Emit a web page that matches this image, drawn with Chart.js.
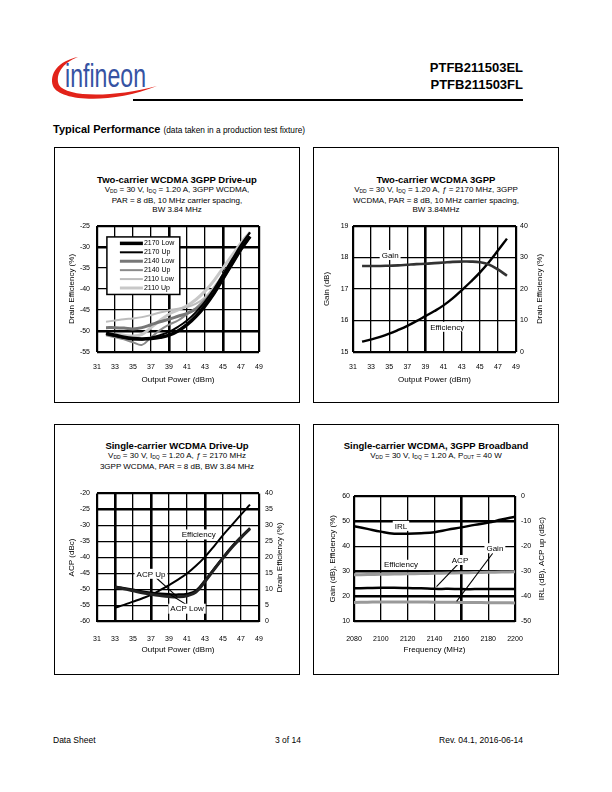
<!DOCTYPE html>
<html>
<head>
<meta charset="utf-8">
<script src="https://cdn.jsdelivr.net/npm/chart.js@4.4.0/dist/chart.umd.min.js"></script>
<style>
  body { margin: 0; width: 612px; height: 792px; position: relative; background: #fff; color: #000;
         font-family: "Liberation Sans", Arial, sans-serif; overflow: hidden; }
  .abs { position: absolute; white-space: nowrap; }
  .box { position: absolute; border: 1.5px solid #000; box-sizing: border-box; }
  .ttl { position: absolute; text-align: center; line-height: 9px; }
  .ttl b { font-size: 9.5px; display: block; margin-bottom: 1px; }
  .ttl div { font-size: 8px; }
  .s { font-size: 5px; vertical-align: -1px; }
  canvas { position: absolute; }
</style>
</head>
<body>

<svg class="abs" style="left:0;top:0" width="200" height="110">
  <path d="M 78 57 C 58 61, 49 74, 53 86 C 59 101, 110 105, 157 86 C 112 98, 66 97, 59 85 C 55 75, 62 63, 78 57 Z" fill="#e2231a"/>
  <text x="65" y="87" font-family="Liberation Sans Narrow, Liberation Sans" font-size="33" fill="#3653a3" textLength="81" lengthAdjust="spacingAndGlyphs">infineon</text>
</svg>
<div class="abs" style="right:89px;top:59px;font-size:13px;font-weight:bold;text-align:right;line-height:17px">PTFB211503EL<br>PTFB211503FL</div>
<div class="abs" style="left:133px;top:99px;width:390px;height:1.5px;background:#000"></div>
<div class="abs" style="left:53px;top:123px;font-size:11px;font-weight:bold">Typical Performance <span style="font-size:8.3px;font-weight:normal">(data taken in a production test fixture)</span></div>

<div class="box" style="left:54px;top:147px;width:246px;height:256px"></div>
<div class="box" style="left:313px;top:147px;width:246px;height:256px"></div>
<div class="box" style="left:54px;top:424px;width:246px;height:251px"></div>
<div class="box" style="left:313px;top:424px;width:246px;height:251px"></div>

<div class="ttl" style="left:54px;width:246px;top:175px">
  <b>Two-carrier WCDMA 3GPP Drive-up</b>
  <div>V<span class="s">DD</span> = 30 V, I<span class="s">DQ</span> = 1.20 A, 3GPP WCDMA,</div>
  <div>PAR = 8 dB, 10 MHz carrier spacing,</div>
  <div>BW 3.84 MHz</div>
</div>
<div class="ttl" style="left:313px;width:246px;top:175px">
  <b>Two-carrier WCDMA 3GPP</b>
  <div>V<span class="s">DD</span> = 30 V, I<span class="s">DQ</span> = 1.20 A, <i>ƒ</i> = 2170 MHz, 3GPP</div>
  <div>WCDMA, PAR = 8 dB, 10 MHz carrier spacing,</div>
  <div>BW 3.84MHz</div>
</div>
<div class="ttl" style="left:54px;width:246px;top:441px">
  <b>Single-carrier WCDMA Drive-Up</b>
  <div>V<span class="s">DD</span> = 30 V, I<span class="s">DQ</span> = 1.20 A, <i>ƒ</i> = 2170 MHz</div>
  <div>3GPP WCDMA, PAR = 8 dB, BW 3.84 MHz</div>
</div>
<div class="ttl" style="left:313px;width:246px;top:441px">
  <b>Single-carrier WCDMA, 3GPP Broadband</b>
  <div>V<span class="s">DD</span> = 30 V, I<span class="s">DQ</span> = 1.20 A, P<span class="s">OUT</span> = 40 W</div>
</div>

<canvas id="c1" width="238" height="176" style="left:56px;top:214px"></canvas>
<canvas id="c2" width="238" height="176" style="left:316px;top:214px"></canvas>
<canvas id="c3" width="238" height="180" style="left:56px;top:482px"></canvas>
<canvas id="c4" width="238" height="178" style="left:316px;top:484px"></canvas>

<div class="abs" style="left:53px;top:735px;font-size:8.5px">Data Sheet</div>
<div class="abs" style="left:238px;width:100px;text-align:center;top:735px;font-size:8.5px">3 of 14</div>
<div class="abs" style="right:89px;top:735px;font-size:8.5px">Rev. 04.1, 2016-06-14</div>

<script>
const FONT = '"Liberation Sans", Arial, sans-serif';

// chart 1: two-carrier drive-up, ACP per frequency
const pout1 = [32, 33, 34, 35, 36, 37, 38, 39, 40, 41, 42, 43, 44, 45, 46, 47, 48];
const acp2170Low = [-50.5, -51, -51.5, -51.8, -51.9, -51.8, -51.5, -51, -50, -48.5, -46.5, -44, -41, -37.5, -34, -30.5, -27.5];
const acp2170Up  = [-50.8, -51.2, -51.6, -52, -52, -51.6, -51, -50.2, -49, -47.5, -45.5, -43, -40, -36.5, -33, -29.5, -26.5];
const acp2140Low = [-49.2, -49.2, -49.3, -49.5, -49.2, -48.5, -47.8, -47.2, -46.5, -45.8, -44.8, -43.5, -41, -37.5, -34, -30.5, -27.5];
const acp2140Up  = [-51, -51.5, -52, -52.7, -53.3, -51.5, -49.8, -48.5, -47.5, -46, -44.5, -42.5, -40, -36.5, -33, -29.5, -26.5];
const acp2110Low = [-47.8, -47.5, -47.2, -47, -46.7, -46.2, -45.6, -45.1, -44.7, -44.3, -43.5, -42, -39.5, -36.5, -33, -30, -27.8];
const acp2110Up  = [-50.8, -50.8, -51, -51.2, -50.8, -49.2, -47.5, -46, -45, -44, -42.5, -40.5, -38, -35, -32, -29, -26.5];

// chart 2: two-carrier gain / efficiency
const pout2 = [32, 33, 34, 35, 36, 37, 38, 39, 40, 41, 42, 43, 44, 45, 46, 47, 48];
const gain2 = [17.73, 17.73, 17.73, 17.74, 17.75, 17.77, 17.79, 17.8, 17.82, 17.84, 17.86, 17.87, 17.87, 17.85, 17.78, 17.62, 17.42];
const eff2  = [3.3, 4, 4.8, 5.8, 7, 8.3, 9.8, 11.4, 13, 14.8, 17, 19.6, 22.3, 25.2, 28.5, 32.2, 36];

// chart 3: single-carrier drive-up
const pout3 = [33, 34, 35, 36, 37, 38, 39, 40, 41, 42, 43, 44, 45, 46, 47, 48];
const acpUp3  = [-49.3, -49.8, -50.4, -51, -51.5, -51.9, -52.2, -52.3, -52, -50.8, -47.5, -43.8, -40.2, -36.8, -33.8, -31];
const acpLow3 = [-49.1, -49.6, -50.1, -50.6, -51, -51.3, -51.5, -51.6, -51.4, -50.4, -47.2, -43.6, -40, -36.6, -33.6, -30.8];
const eff3    = [4.3, 5.2, 6.2, 7.2, 8.3, 9.8, 11.4, 13.1, 15, 17.4, 20.2, 23.5, 27, 30.2, 33.4, 36.5];

// chart 4: broadband at 40 W
const freq4 = [2080, 2090, 2100, 2110, 2120, 2130, 2140, 2150, 2160, 2170, 2180, 2190, 2200];
const irl4  = [-12, -13.1, -14.2, -15, -15, -14.8, -14.4, -13.4, -12.5, -11.5, -10.6, -9.4, -8.3];
const eff4  = [28.6, 28.7, 28.8, 28.9, 29, 29.1, 29.2, 29.3, 29.4, 29.5, 29.6, 29.7, 29.8];
const acp4  = [-36.8, -36.7, -36.6, -36.6, -36.7, -36.8, -37, -37, -37.1, -37.1, -37.1, -37.1, -37.1];
const gain4 = [17.6, 17.7, 17.8, 17.8, 17.8, 17.8, 17.7, 17.7, 17.6, 17.6, 17.5, 17.5, 17.4];

Chart.defaults.font.family = FONT;
Chart.defaults.color = '#000';
Chart.defaults.animation = false;
Chart.defaults.responsive = false;
Chart.defaults.plugins.legend.display = false;
Chart.defaults.plugins.tooltip.enabled = false;

const pts = (xs, ys) => xs.map((x, i) => ({ x: x, y: ys[i] }));

function line(label, xs, ys, color, width, axis) {
  return { label: label, data: pts(xs, ys), borderColor: color, borderWidth: width, pointRadius: 0,
           tension: 0.4, fill: false, yAxisID: axis || 'y' };
}

function gridWidth(thick) {
  return ctx => {
    const s = ctx.scale;
    if (ctx.tick.value === s.min || ctx.tick.value === s.max) return 2.2;
    return thick.includes(ctx.tick.value) ? 2.6 : 1.3;
  };
}

function xAxis(min, max, step, title, h, tickPad, titlePad, thick) {
  return {
    type: 'linear', position: 'bottom', min: min, max: max,
    ticks: { stepSize: step, font: { size: 7 }, padding: tickPad, maxRotation: 0, autoSkip: false, callback: v => v },
    grid: { drawTicks: false, color: '#000', lineWidth: gridWidth(thick) },
    border: { display: false },
    title: { display: true, text: title, font: { size: 8 }, padding: { top: 0, bottom: titlePad } },
    afterFit: s => { s.height = h; }
  };
}

function yAxis(pos, min, max, step, title, w, tickPad, titlePad, thick) {
  return {
    type: 'linear', position: pos, min: min, max: max,
    ticks: { stepSize: step, font: { size: 7 }, padding: tickPad, callback: v => v },
    grid: thick ? { drawTicks: false, color: '#000', lineWidth: gridWidth(thick) } : { display: false, drawTicks: false },
    border: { display: false },
    title: { display: pos === 'left', text: title, font: { size: 8 }, padding: { top: titlePad, bottom: 0 } },
    afterFit: s => { s.width = w; }
  };
}

// right-hand axis title, read bottom to top like the left one
const rightTitle = {
  id: 'rightTitle',
  afterDraw(chart, args, opts) {
    const s = chart.scales.y2;
    if (!s) return;
    const ctx = chart.ctx;
    ctx.save();
    ctx.translate(s.right - opts.offset, (s.top + s.bottom) / 2);
    ctx.rotate(-Math.PI / 2);
    ctx.font = '8px ' + FONT;
    ctx.fillStyle = '#000';
    ctx.textAlign = 'center';
    ctx.textBaseline = 'middle';
    ctx.fillText(s.options.title.text, 0, 0);
    ctx.restore();
  }
};

// text labels with white background and leader lines, given in data units
const notesPlugin = {
  id: 'notes',
  afterDatasetsDraw(chart, args, opts) {
    const ctx = chart.ctx;
    const xs = chart.scales.x;
    ctx.save();
    ctx.strokeStyle = '#000';
    ctx.lineWidth = 1.1;
    (opts.leaders || []).forEach(([x1, y1, x2, y2, ax]) => {
      const ys = chart.scales[ax || 'y'];
      ctx.beginPath();
      ctx.moveTo(xs.getPixelForValue(x1), ys.getPixelForValue(y1));
      ctx.lineTo(xs.getPixelForValue(x2), ys.getPixelForValue(y2));
      ctx.stroke();
    });
    ctx.font = '8px ' + FONT;
    ctx.textAlign = 'center';
    ctx.textBaseline = 'middle';
    (opts.labels || []).forEach(([text, xv, yv, ax]) => {
      const ys = chart.scales[ax || 'y'];
      const px = xs.getPixelForValue(xv), py = ys.getPixelForValue(yv);
      const w = ctx.measureText(text).width;
      ctx.fillStyle = '#fff';
      ctx.fillRect(px - w / 2 - 2, py - 5, w + 4, 10);
      ctx.fillStyle = '#000';
      ctx.fillText(text, px, py + 0.5);
    });
    ctx.restore();
  }
};

// boxed legend inside the plot of chart 1
const boxLegend = {
  id: 'boxLegend',
  afterDatasetsDraw(chart, args, opts) {
    if (!opts.box) return;
    const { ctx, scales: { x, y } } = chart;
    const [x0, y0, x1, y1] = opts.box;
    const l = x.getPixelForValue(x0), r = x.getPixelForValue(x1);
    const t = y.getPixelForValue(y0), b = y.getPixelForValue(y1);
    ctx.save();
    ctx.fillStyle = '#fff';
    ctx.fillRect(l, t, r - l, b - t);
    ctx.strokeStyle = '#000';
    ctx.lineWidth = 1.5;
    ctx.strokeRect(l, t, r - l, b - t);
    const dss = chart.data.datasets;
    const step = (b - t - 4) / dss.length;
    ctx.font = '7px ' + FONT;
    ctx.textBaseline = 'middle';
    dss.forEach((ds, i) => {
      const cy = t + 2 + step * (i + 0.5);
      ctx.strokeStyle = ds.borderColor;
      ctx.lineWidth = ds.borderWidth;
      ctx.beginPath();
      ctx.moveTo(l + 13, cy);
      ctx.lineTo(l + 36, cy);
      ctx.stroke();
      ctx.fillStyle = '#000';
      ctx.fillText(ds.label, l + 37, cy);
    });
    ctx.restore();
  }
};

Chart.register(notesPlugin, boxLegend, rightTitle);

new Chart(document.getElementById('c1'), {
  type: 'line',
  data: { datasets: [
    line('2170 Low', pout1, acp2170Low, '#000', 3.5),
    line('2170 Up', pout1, acp2170Up, '#000', 2),
    line('2140 Low', pout1, acp2140Low, '#777', 3),
    line('2140 Up', pout1, acp2140Up, '#8a8a8a', 2),
    line('2110 Low', pout1, acp2110Low, '#bdbdbd', 2),
    line('2110 Up', pout1, acp2110Up, '#c8c8c8', 3)
  ] },
  options: {
    layout: { padding: { top: 12, right: 35, left: 0, bottom: 0 } },
    scales: {
      x: xAxis(31, 49, 2, 'Output Power (dBm)', 38, 11, 5, [39, 45]),
      y: yAxis('left', -55, -25, 5, 'Drain Efficiency (%)', 41, 7, 11, [-30, -50])
    },
    plugins: { boxLegend: { box: [32.1, -27.6, 40.2, -41.3] } }
  }
});

new Chart(document.getElementById('c2'), {
  type: 'line',
  data: { datasets: [
    line('Gain', pout2, gain2, '#333', 2.6, 'y'),
    line('Efficiency', pout2, eff2, '#000', 2.4, 'y2')
  ] },
  options: {
    layout: { padding: { top: 12, right: 0, left: 0, bottom: 0 } },
    scales: {
      x: xAxis(31, 49, 2, 'Output Power (dBm)', 38, 11, 5, [39]),
      y: yAxis('left', 15, 19, 1, 'Gain (dB)', 37, 4.5, 6, []),
      y2: yAxis('right', 0, 40, 10, 'Drain Efficiency (%)', 38, 4, 0, null)
    },
    plugins: {
      rightTitle: { offset: 14 },
      notes: { labels: [['Gain', 35.1, 18.08], ['Efficiency', 41.4, 15.8]] }
    }
  }
});

new Chart(document.getElementById('c3'), {
  type: 'line',
  data: { datasets: [
    line('ACP Up', pout3, acpUp3, '#222', 3, 'y'),
    line('ACP Low', pout3, acpLow3, '#000', 2.5, 'y'),
    line('Efficiency', pout3, eff3, '#000', 2, 'y2')
  ] },
  options: {
    layout: { padding: { top: 11.5, right: 0, left: 0, bottom: 0 } },
    scales: {
      x: xAxis(31, 49, 2, 'Output Power (dBm)', 40.5, 13, 7, [33, 37, 43]),
      y: yAxis('left', -60, -20, 5, 'ACP (dBc)', 41, 7, 11, [-25]),
      y2: yAxis('right', 0, 40, 5, 'Drain Efficiency (%)', 35, 6, 0, null)
    },
    plugins: {
      rightTitle: { offset: 14 },
      notes: {
        leaders: [[37.6, -46.4, 39.9, -52.2], [41.2, -55.2, 38.9, -51.2]],
        labels: [['Efficiency', 42.3, -32.8], ['ACP Up', 37, -45.1], ['ACP Low', 41, -56]]
      }
    }
  }
});

new Chart(document.getElementById('c4'), {
  type: 'line',
  data: { datasets: [
    line('IRL', freq4, irl4, '#000', 2.5, 'y2'),
    line('Efficiency', freq4, eff4, '#999', 3, 'y'),
    line('ACP', freq4, acp4, '#000', 2.5, 'y2'),
    line('Gain', freq4, gain4, '#999', 3, 'y')
  ] },
  options: {
    layout: { padding: { top: 12, right: 0, left: 0, bottom: 0 } },
    scales: {
      x: xAxis(2080, 2200, 20, 'Frequency (MHz)', 40.5, 13, 7, [2160]),
      y: yAxis('left', 10, 60, 10, 'Gain (dB), Efficiency (%)', 38, 4, 12, [20, 30, 50]),
      y2: yAxis('right', -50, 0, 10, 'IRL (dB), ACP up (dBc)', 39, 6, 0, null)
    },
    plugins: {
      rightTitle: { offset: 12 },
      notes: {
        leaders: [[2141.5, 23.9, 2157.7, 33], [2156.5, 18, 2183.4, 37.2]],
        labels: [['IRL', 2115, 48.1], ['Efficiency', 2115, 32.6], ['ACP', 2159, 34.5], ['Gain', 2185, 39.2]]
      }
    }
  }
});
</script>
</body>
</html>
